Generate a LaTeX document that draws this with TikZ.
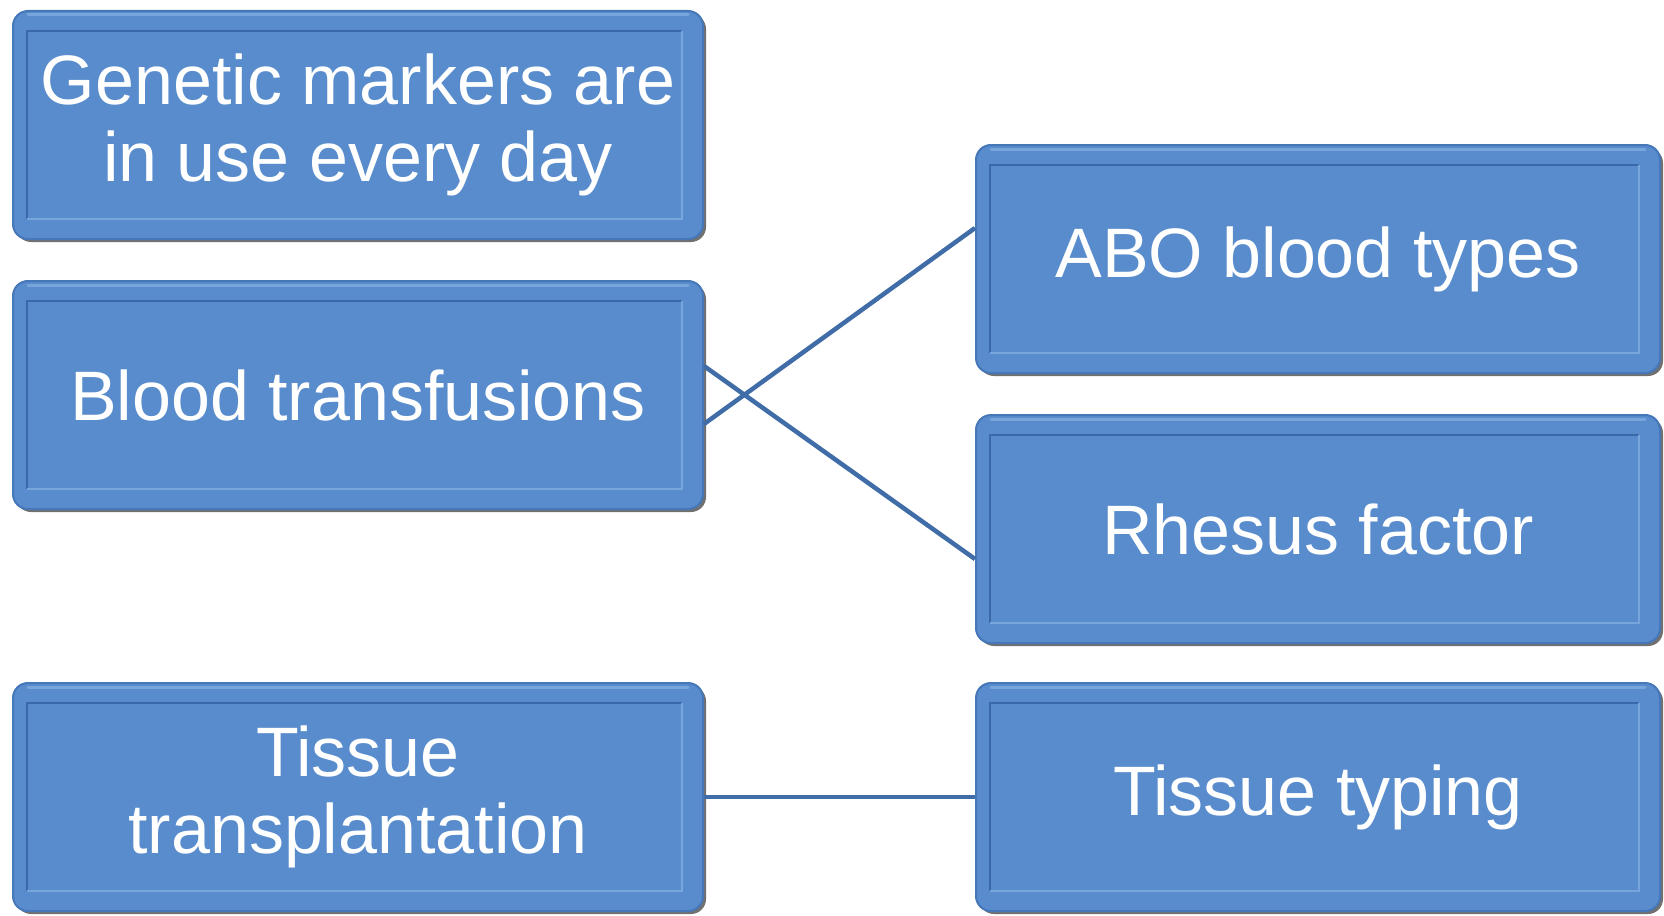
\documentclass[tikz,border=0pt]{standalone}
\usepackage{fontspec}
\setmainfont{Liberation Sans}
\usetikzlibrary{calc,shadows}
\definecolor{boxfill}{RGB}{88,140,204}
\definecolor{boxedge}{RGB}{70,120,185}
\definecolor{innerline}{RGB}{58,104,168}
\definecolor{innerlight}{RGB}{120,165,220}
\definecolor{linkcol}{RGB}{64,108,168}
\tikzset{
  bluebox/.style={rectangle, rounded corners=15pt, fill=boxfill, draw=boxedge, line width=2pt,
    minimum height=228pt, text=white, font=\fontsize{70}{77}\selectfont, align=center,
    drop shadow={shadow xshift=3pt, shadow yshift=-3pt, fill=black!75, opacity=0.75}},
  leftbox/.style={bluebox, minimum width=690pt},
  rightbox/.style={bluebox, minimum width=684pt},
  innerdark/.style={draw=innerline, line width=2pt},
  innerlite/.style={draw=innerlight, line width=2pt},
  toplite/.style={draw=innerlight, line width=3pt, line cap=round},
  halo/.style={draw=black!12, line width=3pt, rounded corners=16pt},
  link/.style={draw=linkcol, line width=4.5pt}
}
\newcommand{\bevelbox}[1]{%
  \draw[innerdark] ($(#1.south west)+(15,-21)$) |- ($(#1.north east)+(-22,21)$);
  \draw[innerlite] ($(#1.north east)+(-22,21)$) |- ($(#1.south west)+(15,-21)$);
  \draw[toplite] ($(#1.north west)+(16,5)$) -- ($(#1.north east)+(-16,5)$);
}
\newcommand{\halobox}[1]{%
  \draw[halo] ($(#1.south west)+(-3,-4)$) |- ($(#1.north east)+(-4,-3)$);
}
\begin{document}
\begin{tikzpicture}[x=1pt,y=-1pt]
\useasboundingbox (0,0) rectangle (1664,915);
\node[leftbox] (gen) at (358,125) {Genetic markers are\\in use every day};
\node[leftbox] (blood) at (358,395) {Blood transfusions};
\node[leftbox] (tissue) at (358,797) {Tissue\\transplantation};
\node[rightbox] (abo) at (1318,259) {ABO blood types};
\node[rightbox] (rh) at (1318,529) {Rhesus factor};
\node[rightbox] (typ) at (1318,797) {Tissue typing};
\foreach \n in {gen,blood,tissue,abo,rh,typ}{\bevelbox{\n}}
\draw[link] ($(blood.east)+(0,29)$) -- ($(abo.west)+(0,-31)$);
\draw[link] ($(blood.east)+(0,-29)$) -- ($(rh.west)+(0,30)$);
\draw[link] (tissue.east) -- (typ.west);
\end{tikzpicture}
\end{document}
